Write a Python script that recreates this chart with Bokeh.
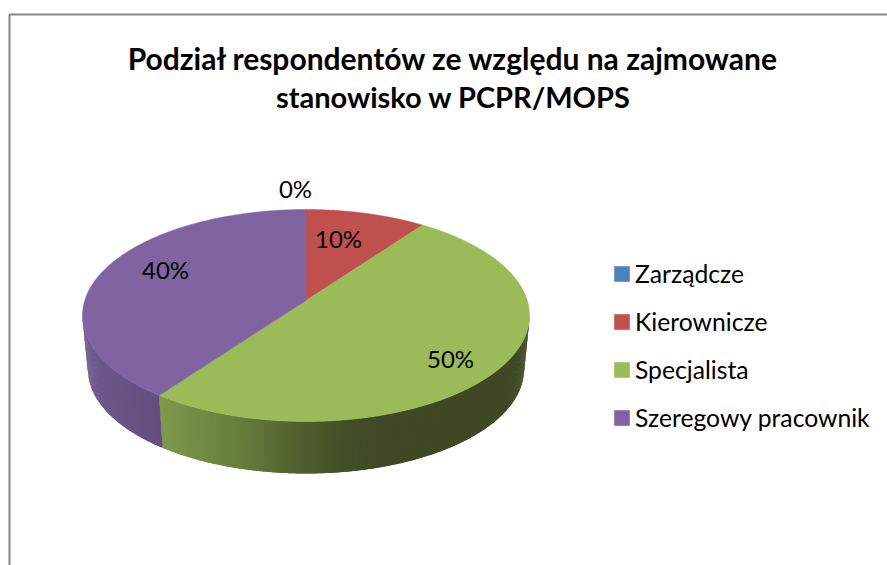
import numpy as np
from bokeh.core.properties import value
from bokeh.embed import file_html
from bokeh.models import Legend, LegendItem, Range1d
from bokeh.plotting import figure
from bokeh.resources import INLINE

# --- chart data ---
categories = ["Zarządcze", "Kierownicze", "Specjalista", "Szeregowy pracownik"]
shares = [0, 10, 50, 40]
title_lines = ["Podział respondentów ze względu na zajmowane", "stanowisko w PCPR/MOPS"]
top_colors = ["#4f81bd", "#c0504d", "#9bbb59", "#8064a2"]

# --- layout ---
W, H = 887, 565
CX, CY, RX, RY = 305.5, 315.0, 223.5, 106.0
BCY, BRX, BRY = 369.0, 218.0, 104.0
TILT = 0.1415
FONT = "Lato"
label_x = [295, 338, 450, 165]
label_y = [188, 238, 358, 269]
side_stops_x = {
    2: [160, 240, 300, 350, 385, 530],
    3: [85, 160],
}
side_stops = {
    2: [(126, 154, 74), (102, 126, 60), (80, 95, 46), (66, 78, 38), (63, 73, 36), (63, 73, 36)],
    3: [(112, 90, 142), (100, 79, 126)],
}


def rim_param(theta_deg):
    """Map a true pie angle to the ellipse parameter after perspective."""
    th = np.radians(theta_deg)
    u, v = np.sin(th), np.cos(th)
    d = 1 + TILT * v
    return np.arctan2(u * np.sqrt(1 - TILT ** 2) / d, (v + TILT) / d) % (2 * np.pi)


p = figure(width=W, height=H, x_range=Range1d(0, W), y_range=Range1d(H, 0),
           output_backend="svg", toolbar_location=None, min_border=0,
           outline_line_color=None, background_fill_color="white", border_fill_color="white")
p.axis.visible = False
p.grid.visible = False

# chart frame
p.line([9, 9, W], [H, 14, 14], line_color="#868686", line_width=2)

edges = np.cumsum([0] + shares) / sum(shares) * 360.0
apex_y = CY - TILT * RY

# side wall: overlapping strips painted in order, so no seams show
xs, ys, cs = [], [], []
for i in side_stops:
    t0, t1 = rim_param(edges[i]), rim_param(edges[i + 1] % 360 or 360)
    if t1 <= t0:
        t1 += 2 * np.pi
    t0, t1 = max(t0, np.pi / 2), min(t1, 1.5 * np.pi)
    n = int(abs(t1 - t0) * RX / 2) + 2
    ts = np.linspace(t0, t1, n)
    for j in range(n - 1):
        a, b = ts[j], ts[min(j + 2, n - 1)]
        arc = np.linspace(a, b, 5)
        tx = np.r_[CX + RX * np.sin(arc), CX + BRX * np.sin(arc[::-1])]
        ty = np.r_[CY - RY * np.cos(arc), BCY - BRY * np.cos(arc[::-1])]
        mid = float(np.mean(tx))
        rgb = [int(np.interp(mid, side_stops_x[i], [s[k] for s in side_stops[i]])) for k in range(3)]
        xs.append(tx)
        ys.append(ty)
        cs.append("#%02x%02x%02x" % tuple(rgb))
p.patches(xs, ys, fill_color=cs, line_color=None)

# top face
items = []
for i, name in enumerate(categories):
    t0 = rim_param(edges[i])
    t1 = rim_param(edges[i + 1]) if edges[i + 1] < 360 else 2 * np.pi
    if t1 < t0:
        t1 += 2 * np.pi
    if shares[i] == 0:
        t1 = t0
    ts = np.linspace(t0, t1, 160)
    px = np.r_[CX, CX + RX * np.sin(ts)]
    py = np.r_[apex_y, CY - RY * np.cos(ts)]
    r = p.patch(px, py, fill_color=top_colors[i], line_color=top_colors[i], line_width=0.5)
    items.append(LegendItem(label=name, renderers=[r]))

# value labels
p.text(label_x, label_y, text=[f"{s}%" for s in shares], text_font=value(FONT),
       text_font_size="24px", text_color="#000000", text_align="center", text_baseline="middle")

# title
p.text([453], [57], text=title_lines[:1], text_font=value(FONT), text_font_style="bold",
       text_font_size="30px", text_color="#000000", text_align="center", text_baseline="middle")
p.text([453], [96], text=title_lines[1:], text_font=value(FONT), text_font_style="bold",
       text_font_size="29px", text_color="#000000", text_align="center", text_baseline="middle")

legend = Legend(items=items, location=(612, 133), orientation="vertical",
                glyph_width=19, glyph_height=19, label_standoff=4, spacing=19, padding=0, margin=0,
                label_height=15, border_line_color=None, background_fill_alpha=0,
                label_text_font=FONT, label_text_font_size="24.7px", label_text_color="#000000",
                label_text_baseline="middle")
p.add_layout(legend, "center")

open("out.html", "w").write(file_html(p, INLINE))
